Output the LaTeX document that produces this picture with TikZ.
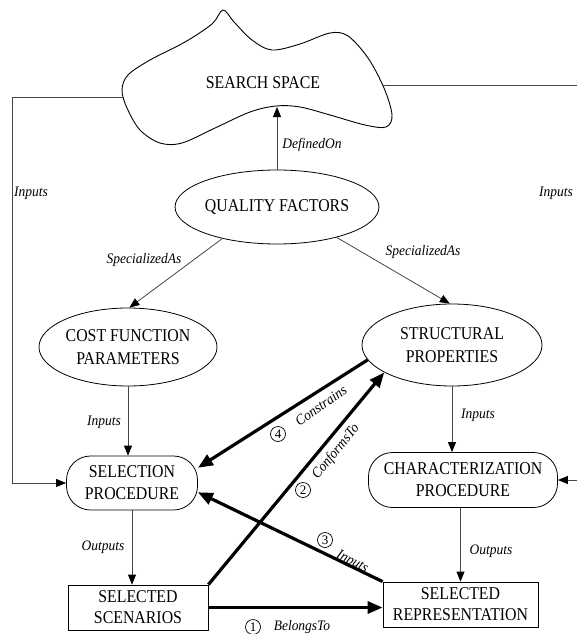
\documentclass[tikz,border=0pt]{standalone}
\usepackage{fontspec}
\setmainfont{Liberation Serif}
\newfontfamily\narrowserif[FakeStretch=0.88]{Liberation Serif}
\newfontfamily\narrowitalic[FakeStretch=0.93,UprightFont=*,ItalicFont=* Italic]{Liberation Serif}
\usetikzlibrary{shapes.geometric,arrows.meta,positioning,calc}
\definecolor{linegray}{RGB}{70,70,70}

\begin{document}
\begin{tikzpicture}[
    x=1pt, y=-1pt,
    concept/.style={ellipse, draw=black, line width=0.8pt, inner sep=0pt, align=center, font=\narrowserif\fontsize{18}{23}\selectfont},
    procbox/.style={rectangle, rounded corners=24pt, draw=black, line width=0.8pt, inner sep=0pt, align=center, font=\narrowserif\fontsize{18}{22}\selectfont},
    resultbox/.style={rectangle, draw=black, line width=0.8pt, inner sep=0pt, align=center, font=\narrowserif\fontsize{18}{21}\selectfont},
    relation/.style={-{Triangle[length=10pt,width=8pt,color=black]}, line width=0.8pt, draw=linegray},
    strongrel/.style={-{Triangle[length=15pt,width=12pt]}, line width=3.2pt},
    rellabel/.style={font=\narrowitalic\fontsize{14.5}{16}\selectfont\itshape, inner sep=1pt},
    stepnum/.style={circle, draw=black, line width=0.7pt, inner sep=0pt, minimum size=15pt, font=\fontsize{13}{13}\selectfont}
]
\useasboundingbox (0,0) rectangle (576,634);

% Search space cloud
\draw[line width=0.9pt] plot[smooth cycle, tension=0.55] coordinates {
    (223,10) (234,22) (252,40) (272,50) (300,44) (330,33) (348,36) (368,58)
    (384,88) (392,115) (386,127) (365,125) (330,115) (300,107) (276,106)
    (250,112) (215,128) (182,143) (160,143) (140,130) (127,108) (122,90)
    (128,75) (150,60) (185,42) (212,24)};
\node[font=\narrowserif\fontsize{18}{21}\selectfont] (space) at (263,83) {SEARCH SPACE};
\coordinate (spacebottom) at (276,107);
\coordinate (spaceleft) at (124,97);
\coordinate (spaceright) at (383,85);
\coordinate (leftrail) at (12,97);
\coordinate (rightrail) at (578,85);

% Concepts
\node[concept, minimum width=180pt, minimum height=74pt] (qf) at (277,207) {QUALITY FACTORS};
\node[concept, minimum width=178pt, minimum height=78pt] (cfp) at (128,347) {COST FUNCTION\\PARAMETERS};
\node[concept, minimum width=180pt, minimum height=82pt] (sp) at (452,345) {STRUCTURAL\\PROPERTIES};

% Procedures
\node[procbox, minimum width=131pt, minimum height=54pt] (sel) at (132,483) {SELECTION\\PROCEDURE};
\node[procbox, minimum width=189pt, minimum height=55pt] (char) at (463,480) {CHARACTERIZATION\\PROCEDURE};

% Results
\node[resultbox, minimum width=140pt, minimum height=45pt] (scen) at (138,607.5) {SELECTED\\SCENARIOS};
\node[resultbox, minimum width=155pt, minimum height=45pt] (rep) at (460.5,604.5) {SELECTED\\REPRESENTATION};

% Thin relations
\draw[relation] (qf.north) -- (qf.north |- spacebottom);
\draw[relation] (qf.210) -- (cfp.88);
\draw[relation] (qf.333) -- (sp.93);
\draw[relation] (cfp.south) -- (cfp.south |- sel.north);
\draw[relation] (sp.south) -- (sp.south |- char.north);
\draw[relation] (sel.south) -- (sel.south |- scen.north);
\draw[relation] (char.south -| rep.north) -- (rep.north);
\draw[relation] (spaceleft) -- (leftrail) |- (sel.west);
\draw[relation] (spaceright) -- (rightrail) |- (char.east);

% Thick relations
\draw[strongrel] (scen.east) -- (scen.east -| rep.west);
\draw[strongrel] (scen.north east) -- (sp.202);
\draw[strongrel] (rep.north west) -- (sel.-8);
\draw[strongrel] (sp.190) -- (sel.13);

% Labels
\node[rellabel] (definedon) at (312,145) {DefinedOn};
\node[rellabel] (specleft) at (144,260) {SpecializedAs};
\node[rellabel] (specright) at (423,252) {SpecializedAs};
\node[rellabel] (inleft) at (31,193) {Inputs};
\node[rellabel] (inright) at (556,193) {Inputs};
\node[rellabel] (incost) at (104,422) {Inputs};
\node[rellabel] (instruct) at (478,415) {Inputs};
\node[rellabel] (outsel) at (103,547) {Outputs};
\node[rellabel] (outchar) at (491,551) {Outputs};
\node[rellabel] (belongs) at (302,627) {BelongsTo};
\node[rellabel, rotate=51] (conforms) at (336,452) {ConformsTo};
\node[rellabel, rotate=-27] (inrep) at (352,562) {Inputs};
\node[rellabel, rotate=35] (constrains) at (321,406) {Constrains};
\node[stepnum] (one) at (253,627) {1};
\node[stepnum] (two) at (303,490) {2};
\node[stepnum] (three) at (325,540) {3};
\node[stepnum] (four) at (278,434) {4};

\end{tikzpicture}
\end{document}
